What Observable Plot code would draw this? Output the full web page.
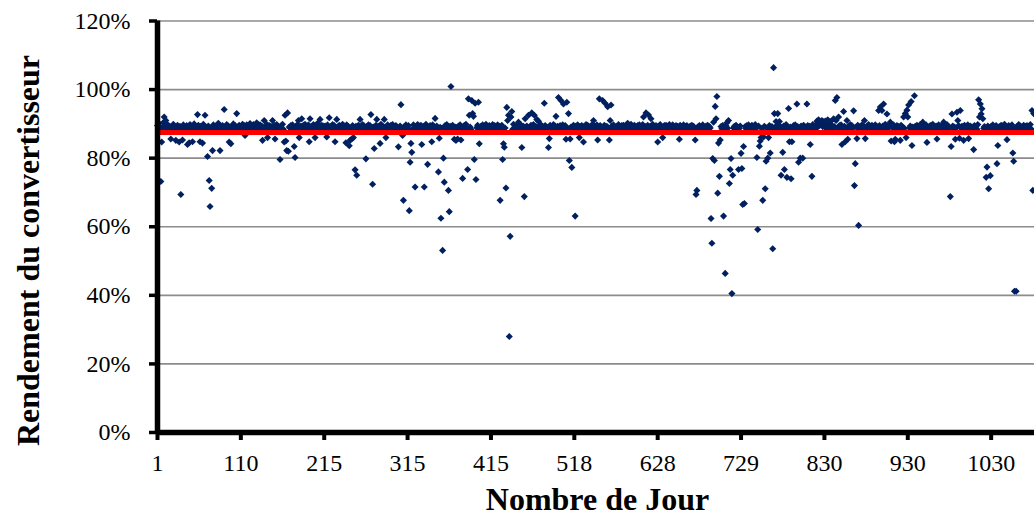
<!DOCTYPE html>
<html>
<head>
<meta charset="utf-8">
<script src="https://cdn.jsdelivr.net/npm/d3@7"></script>
<script src="https://cdn.jsdelivr.net/npm/@observablehq/plot@0.6"></script>
<style>
  html, body { margin: 0; padding: 0; background: #fff; }
  #chart svg { display: block; }
</style>
</head>
<body>
<div id="chart"></div>
<script>
// Rendement du convertisseur (%) by successive day record (category index)
const s0 = [
  89.5, 88.2, 90.1, 89.0, 73.2, 84.7, 88.9, 90.4, 92.0, 89.3,
  91.0, 88.6, 89.8, 88.1, 89.4, 87.9, 85.6, 89.2, 88.7, 89.9,
  88.4, 89.1, 85.2, 88.8, 89.6, 88.0, 84.7, 89.3, 69.4, 88.5,
  85.3, 89.7, 88.3, 89.0, 88.6, 89.5, 84.0, 88.9, 84.5, 89.8,
  88.2, 89.4, 84.8, 88.7, 90.0, 88.4, 89.2, 88.8, 92.7, 89.6,
  88.1, 84.8, 89.3, 88.6, 84.4, 89.9, 88.3, 92.5, 89.1, 88.7,
  80.5, 89.4, 73.5, 65.9, 88.5, 71.2, 82.2, 89.7, 88.2, 89.0,
  88.8, 89.6, 88.4, 90.2, 88.9, 82.2, 89.3, 88.1, 89.5, 88.7,
  94.2, 89.0, 88.6, 89.8, 88.3, 89.4, 84.7, 88.9, 84.2, 89.2,
  88.5, 90.0, 88.8, 89.5, 88.2, 93.0, 89.1, 88.7, 89.6, 88.4
];
const s1 = [
  89.2, 88.6, 89.9, 88.3, 89.5, 86.6, 88.8, 89.7, 88.1, 89.4,
  88.7, 90.1, 88.4, 89.3, 88.9, 89.8, 88.2, 89.6, 88.5, 90.3,
  88.9, 89.2, 88.0, 89.7, 88.6, 89.4, 85.2, 88.8, 91.0, 89.1,
  88.4, 89.9, 86.0, 88.7, 89.5, 88.2, 89.3, 88.9, 91.0, 88.5,
  89.6, 85.6, 88.3, 89.8, 88.7, 89.2, 88.1, 79.6, 89.4, 88.6,
  89.9, 88.4, 84.7, 92.5, 85.0, 82.2, 93.2, 82.0, 89.1, 88.8,
  89.5, 88.2, 89.7, 88.6, 83.4, 80.2, 89.3, 88.9, 89.8, 91.0,
  86.0, 88.5, 89.4, 91.5, 88.7, 89.6, 88.3, 89.9, 88.8, 89.2,
  88.4, 89.7, 84.8, 91.5, 88.6, 89.3, 88.9, 89.8, 88.2, 86.0,
  89.5, 88.7, 90.2, 88.4, 89.1, 91.3, 88.8, 89.6, 88.3, 89.4
];
const s2 = [
  88.6, 89.4, 88.2, 86.2, 89.7, 88.9, 91.8, 88.4, 89.2, 88.7,
  89.8, 88.3, 89.5, 84.8, 88.8, 91.3, 89.1, 88.5, 89.6, 88.2,
  89.3, 88.9, 89.9, 88.6, 89.4, 88.1, 84.5, 89.7, 88.8, 89.2,
  83.6, 85.2, 88.4, 85.6, 89.5, 86.0, 88.7, 76.6, 89.3, 75.0,
  88.9, 89.6, 88.2, 91.3, 89.1, 88.6, 89.8, 88.4, 89.4, 88.8,
  79.8, 89.2, 88.5, 89.7, 88.3, 89.5, 92.7, 88.9, 72.4, 89.1,
  82.8, 88.7, 89.6, 91.3, 88.4, 89.3, 88.8, 84.3, 89.9, 88.2,
  89.4, 88.6, 91.3, 89.1, 86.0, 88.9, 89.7, 88.3, 89.2, 88.7,
  89.6, 88.4, 89.8, 88.9, 89.3, 88.1, 89.5, 88.7, 89.0, 83.3,
  88.6, 89.4, 95.6, 88.8, 86.6, 67.7, 89.2, 88.5, 89.7, 88.3
];
const s3 = [
  88.9, 89.5, 64.7, 78.8, 84.3, 81.7, 88.4, 89.7, 88.6, 71.6,
  89.2, 88.3, 89.8, 88.7, 89.4, 88.1, 89.6, 84.0, 88.8, 89.3,
  71.6, 88.5, 89.9, 88.2, 78.2, 89.1, 88.7, 89.5, 88.4, 84.8,
  89.7, 88.6, 89.2, 91.6, 88.9, 89.4, 88.3, 76.0, 85.8, 89.0,
  62.5, 88.7, 53.1, 80.0, 73.0, 89.5, 88.2, 89.8, 88.6, 70.6,
  64.4, 89.3, 100.9, 88.8, 89.6, 88.4, 85.5, 89.1, 85.2, 88.9,
  85.6, 89.4, 88.2, 89.7, 85.3, 89.2, 74.1, 88.8, 89.5, 88.3,
  89.9, 88.7, 76.7, 97.3, 92.5, 89.1, 88.4, 96.8, 93.0, 92.2,
  79.6, 96.0, 73.8, 88.9, 89.6, 96.3, 84.2, 88.5, 89.3, 88.8,
  89.7, 88.2, 89.4, 88.6, 89.9, 88.4, 89.1, 88.7, 89.5, 88.3
];
const s4 = [
  89.2, 88.6, 89.8, 88.3, 89.5, 88.9, 89.4, 88.1, 89.7, 88.7,
  89.3, 67.7, 88.5, 89.6, 79.6, 84.2, 83.2, 88.8, 71.3, 94.8,
  91.0, 92.5, 28.0, 57.2, 92.0, 93.6, 88.4, 89.9, 88.6, 89.2,
  88.2, 89.5, 88.8, 90.5, 89.1, 88.4, 89.7, 83.1, 88.9, 89.3,
  68.8, 91.5, 88.6, 89.4, 88.2, 92.5, 89.0, 88.7, 89.6, 93.2,
  88.5, 89.8, 92.5, 88.3, 89.2, 91.3, 88.9, 90.8, 89.4, 88.6,
  89.7, 88.2, 89.3, 88.8, 96.0, 89.5, 88.4, 89.1, 88.7, 83.1,
  85.7, 89.6, 88.3, 89.2, 88.9, 89.8, 88.5, 89.4, 92.2, 88.6,
  89.3, 97.7, 88.8, 89.5, 96.8, 88.2, 89.7, 95.8, 88.9, 89.5,
  85.5, 96.3, 88.7, 93.0, 79.3, 85.6, 89.1, 77.3, 88.4, 89.6
];
const s5 = [
  88.8, 63.1, 89.4, 88.2, 89.7, 88.6, 86.0, 89.3, 88.9, 89.5,
  88.4, 84.7, 89.2, 88.7, 89.8, 88.3, 89.6, 88.9, 89.1, 88.5,
  89.4, 88.8, 89.9, 91.0, 88.6, 89.2, 88.4, 89.7, 85.3, 88.9,
  97.3, 89.5, 88.3, 89.1, 96.8, 88.7, 89.6, 96.0, 88.4, 89.3,
  95.0, 88.8, 85.3, 91.0, 95.5, 89.4, 88.2, 89.7, 88.6, 89.0,
  88.5, 89.3, 88.9, 89.8, 88.4, 89.2, 88.7, 89.5, 88.3, 89.6,
  88.8, 89.1, 88.5, 89.7, 90.2, 88.6, 89.4, 88.2, 89.9, 88.7,
  89.3, 88.9, 89.6, 88.4, 89.2, 88.8, 89.5, 88.1, 89.7, 88.6,
  89.4, 88.3, 89.8, 92.0, 88.9, 89.2, 93.2, 88.5, 89.6, 92.6,
  88.7, 89.3, 91.5, 88.4, 89.9, 88.8, 89.1, 88.6, 89.5, 88.2
];
const s6 = [
  84.7, 89.3, 88.6, 89.8, 88.4, 89.1, 86.0, 88.9, 89.5, 88.2,
  89.6, 88.7, 89.2, 88.5, 89.8, 88.9, 89.4, 88.3, 89.7, 88.6,
  89.1, 88.8, 89.5, 88.2, 89.3, 88.7, 85.5, 89.6, 88.4, 89.2,
  88.9, 89.7, 88.5, 89.3, 88.8, 89.5, 88.3, 89.0, 88.6, 89.4,
  88.9, 89.6, 88.2, 89.3, 88.7, 85.3, 69.4, 70.6, 89.1, 88.5,
  89.5, 88.8, 89.2, 88.4, 89.7, 88.6, 89.0, 88.3, 89.4, 88.9,
  89.6, 88.5, 89.2, 88.8, 62.4, 55.2, 79.9, 90.5, 79.3, 95.1,
  91.5, 98.0, 69.8, 84.4, 74.7, 85.3, 89.2, 88.6, 89.5, 63.1,
  88.9, 46.4, 89.4, 90.3, 88.7, 91.0, 72.6, 76.7, 79.9, 40.5,
  75.0, 88.8, 89.3, 88.5, 89.6, 88.2, 89.0, 76.7, 88.7, 89.4
];
const s7 = [
  81.4, 77.0, 66.5, 83.4, 66.8, 89.2, 88.6, 89.5, 88.3, 89.7,
  88.8, 89.1, 88.4, 89.6, 88.9, 89.3, 88.5, 89.8, 88.7, 80.2,
  59.2, 89.4, 83.5, 85.0, 86.0, 88.6, 67.7, 86.2, 89.3, 71.1,
  79.1, 88.8, 80.0, 86.0, 89.5, 81.5, 88.4, 89.2, 53.6, 106.4,
  93.0, 88.9, 90.7, 89.6, 93.0, 88.5, 90.7, 89.3, 75.0, 88.7,
  81.7, 89.4, 76.7, 88.2, 89.8, 74.4, 88.6, 94.5, 84.8, 89.1,
  74.0, 84.8, 88.9, 89.5, 88.3, 89.7, 88.6, 95.8, 89.2, 78.8,
  88.8, 80.0, 89.4, 88.5, 80.0, 89.6, 88.7, 89.1, 88.4, 95.8,
  89.5, 88.9, 89.3, 84.0, 88.6, 74.7, 89.8, 88.2, 89.4, 88.7,
  89.6, 90.8, 89.1, 91.2, 89.5, 90.4, 89.7, 91.0, 89.2, 90.6
];
const s8 = [
  89.4, 90.8, 88.7, 89.9, 91.2, 88.5, 89.3, 90.6, 88.9, 89.6,
  88.4, 91.5, 89.2, 96.8, 91.0, 97.7, 88.8, 92.0, 89.5, 88.6,
  89.7, 84.0, 88.9, 93.6, 89.3, 84.8, 88.5, 91.0, 85.5, 89.4,
  88.7, 89.8, 88.3, 89.5, 88.8, 93.8, 72.0, 78.4, 89.1, 85.7,
  89.6, 60.4, 88.4, 89.2, 88.9, 89.7, 88.5, 89.3, 91.0, 85.7,
  88.6, 89.4, 88.2, 89.8, 88.7, 89.1, 88.4, 89.6, 88.9, 89.3,
  88.5, 89.7, 88.8, 89.2, 88.3, 93.9, 89.5, 94.9, 88.6, 93.9,
  89.4, 95.8, 88.7, 89.9, 88.4, 92.9, 89.2, 88.8, 89.6, 90.5,
  85.0, 89.3, 88.9, 89.7, 84.8, 85.5, 88.4, 89.5, 88.6, 89.2,
  88.8, 85.2, 89.6, 88.3, 89.1, 92.0, 88.7, 93.0, 86.0, 94.0
];
const s9 = [
  92.0, 95.5, 88.8, 89.4, 96.5, 83.7, 89.1, 88.6, 98.2, 89.3,
  88.7, 89.6, 88.4, 89.2, 88.9, 89.8, 88.5, 89.4, 90.5, 88.6,
  89.3, 88.8, 89.7, 84.6, 88.4, 89.1, 88.9, 89.5, 88.3, 89.6,
  89.9, 88.7, 89.2, 88.5, 89.4, 85.6, 88.8, 89.7, 88.4, 89.1,
  88.6, 89.5, 88.9, 90.5, 88.3, 89.3, 88.7, 89.8, 88.5, 89.2,
  88.9, 68.8, 83.4, 92.9, 89.4, 88.6, 89.1, 85.5, 88.8, 93.4,
  91.0, 89.5, 85.8, 93.9, 88.7, 89.3, 88.4, 85.2, 89.6, 88.9,
  89.2, 88.5, 89.7, 85.7, 88.8, 89.4, 88.3, 89.1, 88.6, 82.5,
  89.5, 88.9, 89.3, 88.4, 89.8, 97.0, 92.0, 95.8, 92.9, 94.4,
  91.5, 88.7, 89.2, 88.6, 74.4, 77.4, 89.4, 71.1, 88.9, 74.9
];
const s10 = [
  89.3, 88.6, 89.7, 88.4, 89.1, 88.8, 89.5, 78.4, 83.7, 88.9,
  89.2, 88.5, 89.6, 88.3, 89.4, 88.7, 89.9, 88.6, 89.1, 85.4,
  88.8, 89.5, 88.4, 89.3, 88.9, 89.7, 81.5, 79.1, 41.2, 88.6,
  41.2, 89.2, 88.5, 89.8, 88.7, 89.4, 88.3, 89.1, 88.8, 89.6,
  88.4, 89.3, 88.9, 89.5, 88.6, 89.2, 88.7, 89.8, 88.5, 93.9,
  70.6, 93.0
];
const moyenne = 87.5;                       // red reference line
const xTickIndex = [0, 100, 200, 300, 400, 500, 600, 700, 800, 900, 1000];
const xTickLabels = ["1", "110", "215", "315", "415", "518", "628", "729", "830", "930", "1030"];
const yTicks = [0, 20, 40, 60, 80, 100, 120];
const yGrid = [20, 40, 60, 80, 100, 120];

const values = [].concat(s0, s1, s2, s3, s4, s5, s6, s7, s8, s9, s10);
const data = values.map((v, i) => ({i, v}));

const serif = "'Liberation Serif', 'Times New Roman', serif";

const chart = Plot.plot({
  width: 1034,
  height: 517,
  marginLeft: 157,
  marginRight: 0,
  marginTop: 20.5,
  marginBottom: 85,
  x: {domain: [0, 1052], axis: null},
  y: {domain: [0, 120], axis: null},
  style: {fontFamily: serif, fontSize: "24px", color: "black", background: "white"},
  marks: [
    Plot.gridY(yGrid, {stroke: "#8c8c8c", strokeOpacity: 1, strokeWidth: 1.6}),
    Plot.dot(data, {x: "i", y: "v", symbol: "diamond2", r: 3.2, fill: "#002060"}),
    Plot.ruleY([moyenne], {stroke: "#ff0000", strokeWidth: 5}),
    Plot.axisY(yTicks, {tickFormat: d => d + "%", tickSize: 8, tickPadding: 19,
      strokeWidth: 3.5, fontSize: 24, fontFamily: serif, label: null}),
    Plot.axisX(xTickIndex, {tickFormat: d => xTickLabels[xTickIndex.indexOf(d)], tickSize: 8, tickPadding: 13,
      strokeWidth: 4, fontSize: 24, fontFamily: serif, label: null}),
    Plot.ruleX([0], {stroke: "black", strokeWidth: 5.5}),
    Plot.ruleY([0], {stroke: "black", strokeWidth: 5.5})
  ]
});

const svg = d3.select(chart);
svg.append("text")
  .attr("transform", "translate(39,250.5) rotate(-90)")
  .attr("text-anchor", "middle")
  .style("font-family", serif).style("font-weight", "bold").style("font-size", "32px")
  .attr("fill", "black")
  .text("Rendement du convertisseur");
svg.append("text")
  .attr("x", 597.5).attr("y", 510)
  .attr("text-anchor", "middle")
  .style("font-family", serif).style("font-weight", "bold").style("font-size", "32px")
  .attr("fill", "black")
  .text("Nombre de Jour");

document.getElementById("chart").appendChild(chart);
</script>
</body>
</html>
